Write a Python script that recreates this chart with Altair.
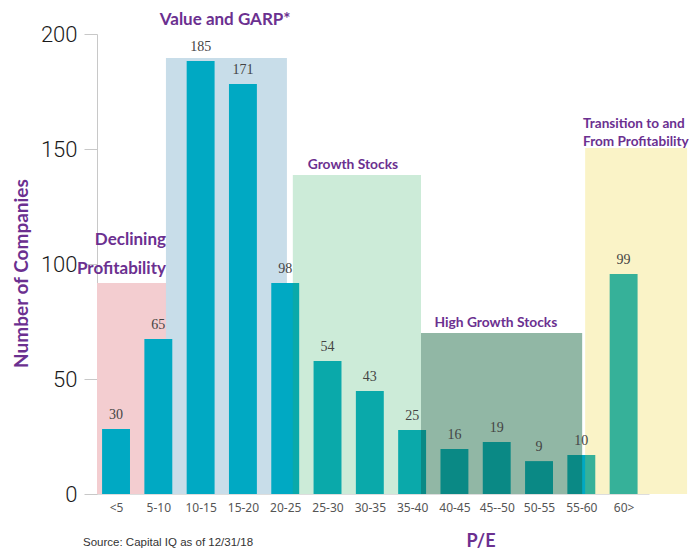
import altair as alt
import pandas as pd

# ---- data ----
categories = ["<5", "5-10", "10-15", "15-20", "20-25", "25-30", "30-35",
              "35-40", "40-45", "45--50", "50-55", "55-60", "60>"]
bar_heights = [28.3, 67.4, 188.3, 178.3, 91.7, 57.8, 44.8, 27.8, 19.6, 22.6, 14.3, 17.0, 95.7]
bar_labels = ["30", "65", "185", "171", "98", "54", "43", "25", "16", "19", "9", "10", "99"]

# shaded regions (in category-index units) and their heights
region_names = ["Declining Profitability", "Value and GARP*", "Growth Stocks",
                "High Growth Stocks", "Transition"]
region_start = [-0.45, 1.18, 4.18, 7.21, 11.09]
region_end = [1.44, 4.04, 7.21, 11.02, 13.5]
region_top = [91.7, 189.6, 138.7, 70.0, 150.4]

# annotation texts
ann_text = ["Value and GARP*", "Declining", "Profitability", "Growth Stocks",
            "High Growth Stocks", "Transition to and", "From Profitability"]
ann_x = [2.58, 1.18, 1.18, 5.6, 8.98, 11.04, 11.04]
ann_y = [206, 110.4, 98, 143, 74.3, 161, 153]
ann_align = ["center", "right", "right", "center", "center", "left", "left"]
ann_size = [17, 17, 17, 13.8, 13.8, 13.6, 13.6]

PURPLE = "#6b3090"
CYAN = "#00a9c3"

bars = pd.DataFrame({"i": list(range(len(categories))), "cat": categories,
                     "h": bar_heights, "lab": bar_labels})
regions = pd.DataFrame({"name": region_names, "x0": region_start,
                        "x1": region_end, "top": region_top, "bot": [0] * 5})
ann = pd.DataFrame({"t": ann_text, "x": ann_x, "y": ann_y, "al": ann_align,
                    "fs": ann_size})

label_expr = "[" + ",".join("'" + c + "'" for c in categories) + "][datum.value]"

xscale = alt.Scale(domain=[-0.45, 12.6], nice=False, zero=False)
yscale = alt.Scale(domain=[0, 200], nice=False)

xaxis = alt.Axis(values=list(range(len(categories))), labelExpr=label_expr,
                 ticks=False, grid=False, domain=True, domainColor="#dddddd",
                 labelFont="Noto Sans", labelFontSize=12, labelColor="#555555",
                 labelPadding=8, title="P/E", titleFont="Lato", titleFontSize=18,
                 titleFontWeight="bold", titleColor=PURPLE, titleX=369, titleY=47,
                 titleAnchor="start", titleBaseline="middle")
yaxis = alt.Axis(values=[0, 50, 100, 150, 200], grid=False, domainColor="#c8c8c8",
                 tickColor="#c8c8c8", tickSize=13, labelFont="Roboto",
                 labelFontWeight=300, labelFontSize=22, labelColor="#1a1a1a",
                 labelPadding=7, title="Number of Companies", titleFont="Lato",
                 titleFontSize=19, titleFontWeight="bold", titleColor=PURPLE,
                 titlePadding=9, titleY=239)

def region_layer(name, color, opacity):
    return alt.Chart(regions).transform_filter(
        alt.datum.name == name
    ).mark_rect(color=color, opacity=opacity).encode(
        x=alt.X("x0:Q", scale=xscale, axis=xaxis),
        x2="x1:Q",
        y=alt.Y("bot:Q", scale=yscale, axis=yaxis),
        y2="top:Q",
    )

pink = region_layer("Declining Profitability", "#f3cdd0", 1)
blue = region_layer("Value and GARP*", "#c8dde9", 1)
green = region_layer("Growth Stocks", "#29ad5a", 0.24)
hg = region_layer("High Growth Stocks", "#156740", 0.47)
yellow = region_layer("Transition", "#e9cb0d", 0.23)

bar_layer = alt.Chart(bars).transform_calculate(
    x0="datum.i - 0.33", x1="datum.i + 0.33", z="0"
).mark_rect(color=CYAN).encode(
    x=alt.X("x0:Q", scale=xscale, axis=xaxis), x2="x1:Q",
    y=alt.Y("z:Q", scale=yscale, axis=yaxis), y2="h:Q",
)

value_labels = alt.Chart(bars).mark_text(
    font="Liberation Serif", fontSize=14, color="#444444", baseline="middle", dy=-14
).encode(
    x=alt.X("i:Q", scale=xscale, axis=xaxis),
    y=alt.Y("h:Q", scale=yscale, axis=yaxis),
    text="lab:N",
)

ann_layers = []
for al in ["center", "right", "left"]:
    sub = ann[ann["al"] == al]
    ann_layers.append(
        alt.Chart(sub).mark_text(
            font="Lato", fontWeight="bold", color=PURPLE,
            align=al, baseline="middle"
        ).encode(
            x=alt.X("x:Q", scale=xscale, axis=xaxis),
            y=alt.Y("y:Q", scale=yscale, axis=yaxis),
            size=alt.Size("fs:Q", scale=None, legend=None),
            text="t:N",
        )
    )

source = alt.Chart(pd.DataFrame({"t": ["Source:  Capital IQ as of 12/31/18"]})).mark_text(
    font="Liberation Sans", fontSize=11.5, color="#333333",
    align="left", baseline="middle"
).encode(x=alt.value(-14), y=alt.value(509), text="t:N")

chart = alt.layer(
    pink, blue, bar_layer, green, hg, yellow, value_labels, *ann_layers, source
).properties(
    width=552, height=460,
    padding={"left": 4, "top": 3, "right": 0, "bottom": 0},
).configure_view(stroke=None)

chart.save("out.html", embed_options={"renderer": "svg", "actions": False})
